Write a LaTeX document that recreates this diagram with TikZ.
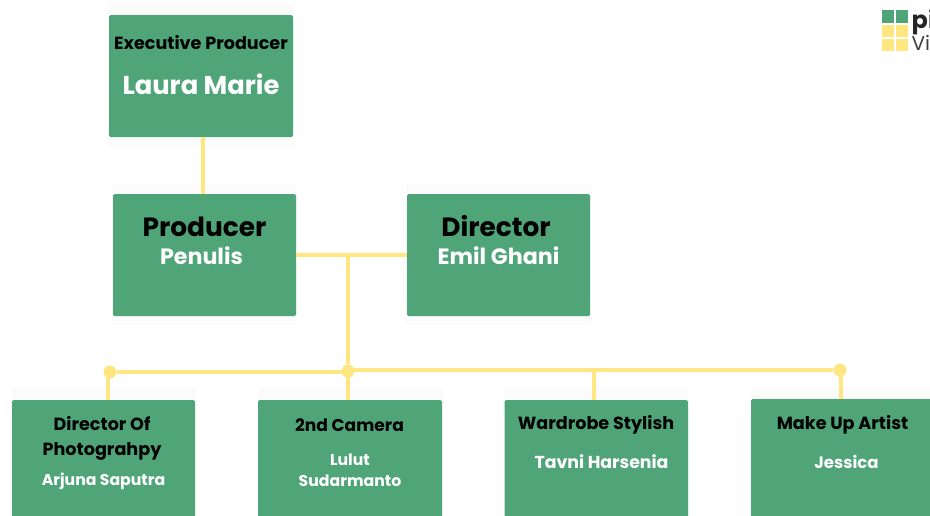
\documentclass[tikz,border=0pt]{standalone}
\usepackage{fontspec}
\setmainfont{Poppins}
\definecolor{cardgreen}{HTML}{50A578}
\definecolor{linkyellow}{HTML}{FFE681}
\definecolor{halo}{HTML}{FBFBFB}
\tikzset{
  card/.style={fill=cardgreen,rounded corners=1.5pt,draw=none},
  link/.style={draw=linkyellow,line width=3.4pt},
  junction/.style={circle,fill=linkyellow,draw=none,minimum size=13pt,inner sep=0pt},
  labeltext/.style={align=center,inner sep=0pt},
  rolebig/.style={labeltext,font=\bfseries\fontsize{26.4}{28}\selectfont,text=black},
  rolesmall/.style={labeltext,font=\bfseries\fontsize{17.6}{25}\selectfont,text=black},
  namebig/.style={labeltext,font=\bfseries\fontsize{25.8}{28}\selectfont,text=white},
  namemid/.style={labeltext,font=\bfseries\fontsize{22.2}{24}\selectfont,text=white},
  namesmall/.style={labeltext,font=\bfseries\fontsize{15.7}{21}\selectfont,text=white},
  namelarge/.style={labeltext,font=\bfseries\fontsize{17.3}{21}\selectfont,text=white},
}
\begin{document}
\begin{tikzpicture}[x=1pt,y=-1pt]
\useasboundingbox (0,0) rectangle (930,515);
\clip (0,0) rectangle (930,515);
% halos
\foreach \x/\y/\w/\h in {108/5/186/142,112/185/185/140,406/185/185/140,12/388/184/140,258/388/185/140,504/388/185/140,751/388/190/140}
  \fill[halo] (\x,\y) rectangle ++(\w,\h);
% junction anchors
\coordinate (prodmid) at (348,255);
% cards
\path[card] (109,15) rectangle (293,137);
\path[card] (113,194) rectangle (296,316);
\path[card] (407,194) rectangle (590,316);
\path[card] (12,400) rectangle (195,530);
\path[card] (258,400) rectangle (442,530);
\path[card] (504.5,400) rectangle (688,530);
\path[card] (751,399) rectangle (945,530);
% connector ends on the cards
\coordinate (execb) at (203,137);
\coordinate (prodt) at (203,194);
\coordinate (prodr) at (296,255);
\coordinate (dirl) at (407,255);
\coordinate (dopt) at (108,400);
\coordinate (camt) at (348,400);
\coordinate (wart) at (594,400);
\coordinate (mkpt) at (841,399);
\node[junction] (jl) at (110,372) {};
\node[junction] (jm) at (348,371) {};
\node[junction] (jr) at (840,370) {};
\coordinate (warj) at (594,370);
% connectors
\draw[link] (execb) -- (prodt);
\draw[link] (prodr) -- (dirl);
\draw[link] (prodmid) -- (jm);
\draw[link] (jl) -- (jm.center |- jl);
\draw[link] (jm.center |- jr) -- (jr);
\draw[link] (dopt |- jl) -- (dopt);
\draw[link] (jm.center) -- (camt);
\draw[link] (warj) -- (wart);
\draw[link] (mkpt |- jr) -- (mkpt);
% texts
\node[rolesmall] (t1) at (201,43) {Executive Producer};
\node[namebig] (n1) at (201,84.5) {Laura Marie};
\node[rolebig] (t2) at (204.5,226.5) {Producer};
\node[namemid] (n2) at (201.5,256) {Penulis};
\node[rolebig] (t3) at (496,226.5) {Director};
\node[namemid] (n3) at (498.5,256) {Emil Ghani};
\node[rolesmall,font=\bfseries\fontsize{17.6}{24.5}\selectfont] (t4) at (102,438.5) {Director Of\\Photograhpy};
\node[namesmall] (n4) at (103.5,481) {Arjuna Saputra};
\node[rolesmall,font=\bfseries\fontsize{17.1}{25}\selectfont] (t5) at (349.5,425) {2nd Camera};
\node[namesmall] (n5) at (350,470.5) {Lulut\\Sudarmanto};
\node[rolesmall] (t6) at (596,425) {Wardrobe Stylish};
\node[namelarge] (n6) at (601.5,462) {Tavni Harsenia};
\node[rolesmall] (t7) at (842.5,425) {Make Up Artist};
\node[namelarge,font=\bfseries\fontsize{16.5}{21}\selectfont] (n7) at (846.5,462) {Jessica};
% logo
\foreach \x in {882,896}{
  \fill[cardgreen] (\x,10) rectangle ++(11.5,12.5);
  \fill[linkyellow] (\x,24.5) rectangle ++(11.5,12);
  \fill[linkyellow] (\x,38.5) rectangle ++(11.5,12);
}
\node[anchor=base west,inner sep=0pt,font=\bfseries\fontsize{24}{24}\selectfont,text=black!85] (lg1) at (911.5,28) {pi};
\node[anchor=base west,inner sep=0pt,font=\fontsize{20}{20}\selectfont,text=black!75] (lg2) at (911.5,50) {Vi};
\end{tikzpicture}
\end{document}
